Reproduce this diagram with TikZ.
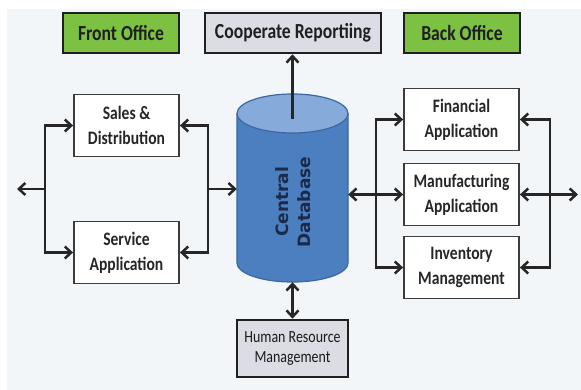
\documentclass[tikz,border=0pt]{standalone}
\usepackage{fontspec}
\setmainfont{Carlito}[FakeStretch=0.82]
\newfontfamily\dbfont{DejaVu Sans}
\usetikzlibrary{arrows.meta}
\definecolor{bgc}{HTML}{F3F6F9}
\definecolor{hdgreen}{HTML}{7CC142}
\definecolor{hdgray}{HTML}{DCDDE4}
\definecolor{linec}{HTML}{262626}
\definecolor{boxline}{HTML}{3C3C3C}
\definecolor{cylbody}{HTML}{4C7FBF}
\definecolor{cyltop}{HTML}{86AADA}
\definecolor{cylline}{HTML}{3A68A2}
\definecolor{dbtext}{HTML}{1C2A4A}
\begin{document}
\begin{tikzpicture}[x=1pt,y=-1pt,
  hdr/.style={draw=black!88, line width=2.6pt, minimum width=116pt, minimum height=40pt, inner sep=0pt,
    font=\fontsize{21.5}{24}\selectfont\bfseries, text=black!88},
  appbox/.style={draw=boxline, line width=1.8pt, fill=white, minimum width=105pt, minimum height=62pt,
    inner sep=0pt, align=center, font=\fontsize{19}{25}\selectfont\bfseries, text=black!85},
  arr/.style={draw=linec, line width=2.5pt, -{Straight Barb[length=6.5pt,width=12pt]}},
  arrb/.style={draw=linec, line width=2.5pt, {Straight Barb[length=6.5pt,width=12pt]}-{Straight Barb[length=6.5pt,width=12pt]}},
  cylline/.style={draw=cylline, line width=1.2pt}
]
\useasboundingbox (0,0) rectangle (581,390);
\fill[white] (0,0) rectangle (581,390);
\fill[bgc] (7,9) rectangle (581,390);

% headers
\node[hdr, fill=hdgreen] (fo) at (121,33) {Front Office};
\node[hdr, fill=hdgray, minimum width=176pt] (cr) at (293,33) {Cooperate Reportiing};
\node[hdr, fill=hdgreen] (bo) at (462,33) {Back Office};

% left boxes
\node[appbox] (sd) at (126.5,125.5) {Sales \&\\Distribution};
\node[appbox] (sa) at (126.5,252.5) {Service\\Application};

% right boxes
\node[appbox, minimum width=115pt] (fa) at (461.5,119.5) {Financial\\Application};
\node[appbox, minimum width=115pt] (ma) at (461.5,194.5) {Manufacturing\\Application};
\node[appbox, minimum width=115pt] (im) at (461.5,267.5) {Inventory\\Management};

% HR box
\node[draw=black!88, line width=2.6pt, fill=hdgray, minimum width=111pt, minimum height=57pt, inner sep=0pt,
  align=center, font=\fontsize{17}{20}\selectfont, text=black!90] (hr) at (292.5,348.5) {Human Resource\\Management};

% central database cylinder
\node[minimum width=111pt, minimum height=188pt, inner sep=0pt] (db) at (292.5,188) {};
\path[fill=cylbody, cylline] (237,113.5) -- (237,263)
  arc[start angle=180, end angle=360, x radius=55.5pt, y radius=19pt] -- (348,113.5);
\draw[fill=cyltop, cylline] (292.5,113.5) ellipse [x radius=55.5pt, y radius=19.5pt];
\node[rotate=90, align=center, text=dbtext, font=\dbfont\bfseries\fontsize{17}{22}\selectfont] (dbt) at (293,202) {Central\\Database};

% connectors
\coordinate (dbtop) at (292.5,119);
\draw[arr] (dbtop) -- (dbtop |- cr.south);
\draw[arrb] (db.south) -- (hr.north);

\coordinate (lj) at (45,189);
\coordinate (lout) at (17,189);
\draw[arr] (lj) |- (sd.west);
\draw[arr] (lj) |- (sa.west);
\draw[arr] (lj) -- (lout);

\coordinate (rj) at (208,189);
\draw[arr] (rj) |- (sd.east);
\draw[arr] (rj) |- (sa.east);
\draw[arr] (rj) -- (rj -| db.west);

\coordinate (rj2) at (376,194.5);
\draw[arr] (rj2) |- (fa.west);
\draw[arr] (rj2) |- (im.west);
\draw[arrb] (ma.west -| db.east) -- (ma.west);

\coordinate (rj3) at (550,194.5);
\coordinate (rout) at (578,194.5);
\draw[arr] (rj3) |- (fa.east);
\draw[arr] (rj3) |- (im.east);
\draw[arrb] (ma.east) -- (rout);
\end{tikzpicture}
\end{document}
